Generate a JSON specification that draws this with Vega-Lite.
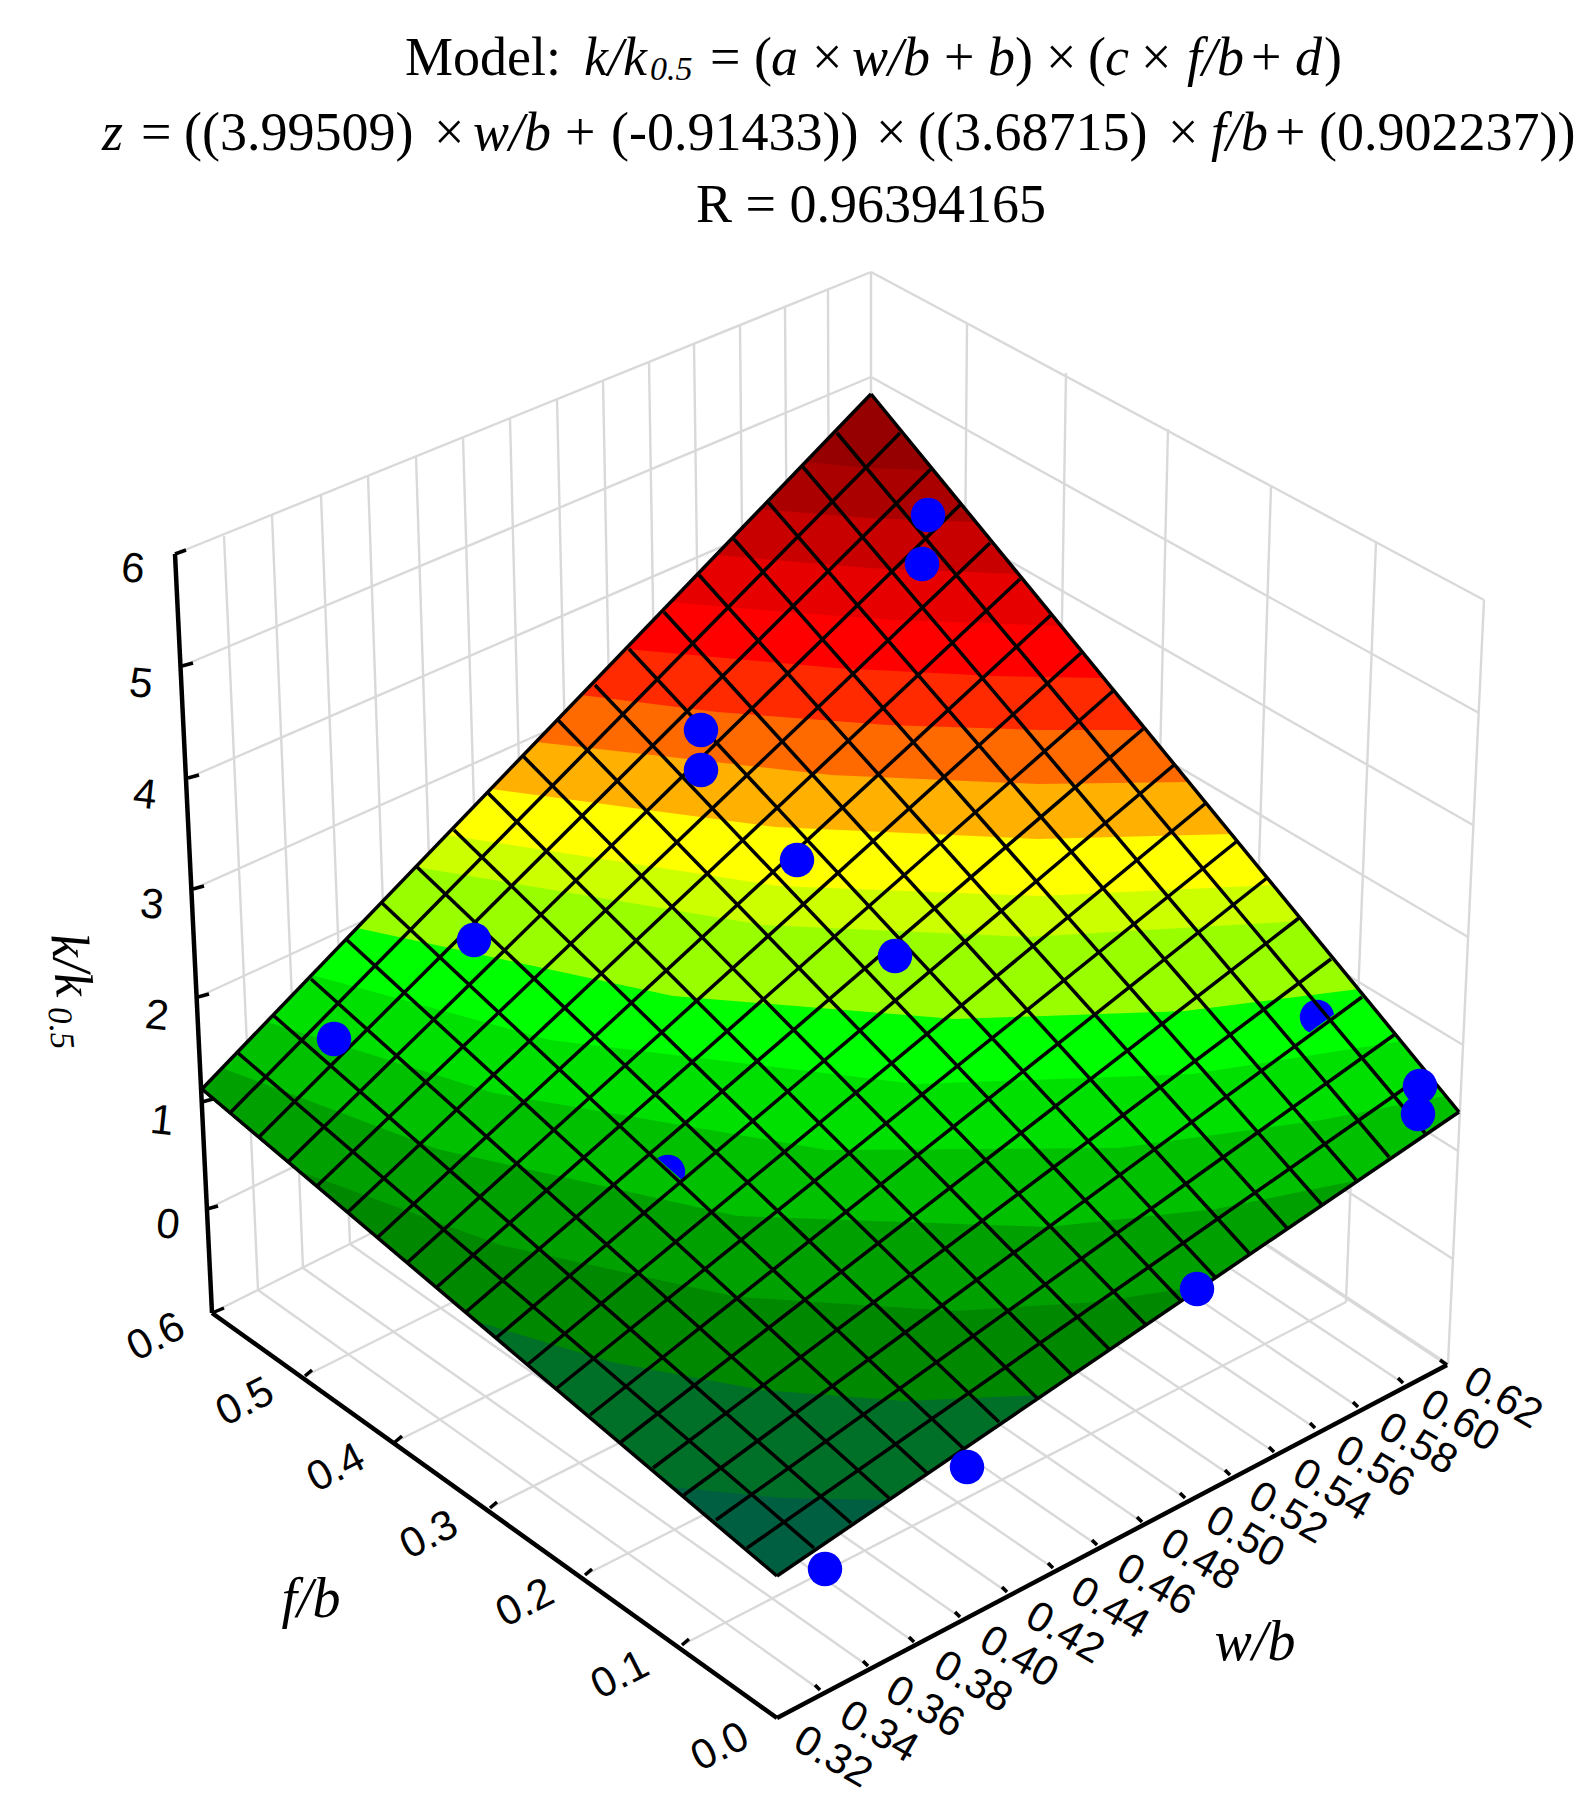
{
  "$schema": "https://vega.github.io/schema/vega-lite/v6.json",
  "width": 1593,
  "height": 1816,
  "padding": 0,
  "autosize": {"type": "fit", "contains": "padding"},
  "background": "white",
  "config": {"view": {"stroke": null}},
  "datasets": {
    "wall": [
      {"x":224,"y":536,"x2":258,"y2":1290},{"x":272,"y":515,"x2":303,"y2":1268},{"x":321,"y":495,"x2":350,"y2":1244},
      {"x":368,"y":476,"x2":394,"y2":1223},{"x":416,"y":456,"x2":440,"y2":1199},{"x":463,"y":437,"x2":485,"y2":1177},
      {"x":510,"y":419,"x2":529,"y2":1154},{"x":557,"y":399,"x2":574,"y2":1132},{"x":603,"y":380,"x2":617,"y2":1110},
      {"x":649,"y":362,"x2":661,"y2":1088},{"x":694,"y":344,"x2":704,"y2":1067},{"x":740,"y":326,"x2":747,"y2":1045},
      {"x":785,"y":307,"x2":790,"y2":1023},{"x":828,"y":290,"x2":830,"y2":1003},{"x":871,"y":272,"x2":871,"y2":983},
      {"x":967,"y":324,"x2":961,"y2":1048},{"x":1066,"y":373,"x2":1054,"y2":1112},{"x":1168,"y":429,"x2":1150,"y2":1176},
      {"x":1271,"y":487,"x2":1247,"y2":1239},{"x":1376,"y":542,"x2":1346,"y2":1302},{"x":1484,"y":600,"x2":1448,"y2":1364},
      {"x":175,"y":554,"x2":871,"y2":272},{"x":182,"y":666,"x2":871,"y2":377},{"x":188,"y":778,"x2":871,"y2":482},
      {"x":193,"y":889,"x2":871,"y2":586},{"x":198,"y":997,"x2":871,"y2":687},{"x":202,"y":1102,"x2":871,"y2":785},
      {"x":207,"y":1209,"x2":871,"y2":886},
      {"x":871,"y":272,"x2":1484,"y2":600},{"x":871,"y":377,"x2":1479,"y2":713},{"x":871,"y":482,"x2":1473,"y2":825},
      {"x":871,"y":586,"x2":1468,"y2":937},{"x":871,"y":687,"x2":1463,"y2":1045},{"x":871,"y":785,"x2":1458,"y2":1151},
      {"x":871,"y":886,"x2":1453,"y2":1259},{"x":871,"y":983,"x2":1448,"y2":1364},
      {"x":820,"y":1690,"x2":258,"y2":1290},{"x":868,"y":1666,"x2":303,"y2":1268},{"x":914,"y":1642,"x2":350,"y2":1244},
      {"x":960,"y":1617,"x2":394,"y2":1223},{"x":1007,"y":1592,"x2":440,"y2":1199},{"x":1053,"y":1568,"x2":485,"y2":1177},
      {"x":1097,"y":1545,"x2":529,"y2":1154},{"x":1142,"y":1522,"x2":574,"y2":1132},{"x":1185,"y":1498,"x2":617,"y2":1110},
      {"x":1230,"y":1475,"x2":661,"y2":1088},{"x":1274,"y":1452,"x2":704,"y2":1067},{"x":1315,"y":1428,"x2":747,"y2":1045},
      {"x":1358,"y":1407,"x2":790,"y2":1023},{"x":1403,"y":1383,"x2":830,"y2":1003},{"x":1447,"y":1365,"x2":871,"y2":983},
      {"x":682,"y":1645,"x2":1346,"y2":1302},{"x":585,"y":1575,"x2":1247,"y2":1239},{"x":490,"y":1508,"x2":1150,"y2":1176},
      {"x":395,"y":1442,"x2":1054,"y2":1112},{"x":305,"y":1376,"x2":961,"y2":1048},{"x":212,"y":1313,"x2":871,"y2":983}
    ],
    "axes": [
      {"x":175,"y":554,"x2":212,"y2":1313},{"x":212,"y":1313,"x2":777,"y2":1718},{"x":777,"y":1718,"x2":1447,"y2":1365}
    ],
    "ticks": [
      {"x":175,"y":554,"x2":186,"y2":550},{"x":182,"y":666,"x2":193,"y2":663},{"x":188,"y":778,"x2":199,"y2":775},
      {"x":193,"y":889,"x2":204,"y2":886},{"x":198,"y":997,"x2":209,"y2":994},{"x":202,"y":1102,"x2":213,"y2":1099},
      {"x":207,"y":1209,"x2":218,"y2":1206},{"x":212,"y":1313,"x2":224,"y2":1308},
      {"x":305,"y":1376,"x2":312,"y2":1370},{"x":395,"y":1442,"x2":402,"y2":1436},{"x":490,"y":1508,"x2":497,"y2":1502},
      {"x":585,"y":1575,"x2":592,"y2":1569},{"x":682,"y":1645,"x2":689,"y2":1639},
      {"x":820,"y":1690,"x2":815,"y2":1685},{"x":868,"y":1666,"x2":863,"y2":1661},{"x":914,"y":1642,"x2":909,"y2":1637},
      {"x":960,"y":1617,"x2":955,"y2":1612},{"x":1007,"y":1592,"x2":1002,"y2":1587},{"x":1053,"y":1568,"x2":1048,"y2":1563},
      {"x":1097,"y":1545,"x2":1092,"y2":1540},{"x":1142,"y":1522,"x2":1137,"y2":1517},{"x":1185,"y":1498,"x2":1180,"y2":1493},
      {"x":1230,"y":1475,"x2":1225,"y2":1470},{"x":1274,"y":1452,"x2":1269,"y2":1447},{"x":1315,"y":1428,"x2":1310,"y2":1423},
      {"x":1358,"y":1407,"x2":1353,"y2":1402},{"x":1403,"y":1383,"x2":1398,"y2":1378},{"x":1447,"y":1365,"x2":1440,"y2":1360}
    ],
    "surface": [
      {"band":"0","i":0,"x":777,"y":1576},{"band":"0","i":1,"x":1459,"y":1112},{"band":"0","i":2,"x":871,"y":394},{"band":"0","i":3,"x":201,"y":1090},
      {"band":"0.5","i":0,"x":672,"y":1487},{"band":"0.5","i":1,"x":782,"y":1498},{"band":"0.5","i":2,"x":886,"y":1500},{"band":"0.5","i":3,"x":1459,"y":1112},{"band":"0.5","i":4,"x":871,"y":394},{"band":"0.5","i":5,"x":201,"y":1090},
      {"band":"0.75","i":0,"x":475,"y":1321},{"band":"0.75","i":1,"x":611,"y":1362},{"band":"0.75","i":2,"x":762,"y":1390},{"band":"0.75","i":3,"x":904,"y":1401},{"band":"0.75","i":4,"x":1043,"y":1395},{"band":"0.75","i":5,"x":1459,"y":1112},{"band":"0.75","i":6,"x":871,"y":394},{"band":"0.75","i":7,"x":201,"y":1090},
      {"band":"1","i":0,"x":296,"y":1170},{"band":"1","i":1,"x":500,"y":1245},{"band":"1","i":2,"x":737,"y":1297},{"band":"1","i":3,"x":954,"y":1311},{"band":"1","i":4,"x":1097,"y":1302},{"band":"1","i":5,"x":1201,"y":1286},{"band":"1","i":6,"x":1459,"y":1112},{"band":"1","i":7,"x":871,"y":394},{"band":"1","i":8,"x":201,"y":1090},
      {"band":"1.25","i":0,"x":222,"y":1068},{"band":"1.25","i":1,"x":437,"y":1149},{"band":"1.25","i":2,"x":737,"y":1216},{"band":"1.25","i":3,"x":1048,"y":1227},{"band":"1.25","i":4,"x":1216,"y":1209},{"band":"1.25","i":5,"x":1359,"y":1180},{"band":"1.25","i":6,"x":1459,"y":1112},{"band":"1.25","i":7,"x":871,"y":394},
      {"band":"1.5","i":0,"x":267,"y":1022},{"band":"1.5","i":1,"x":494,"y":1093},{"band":"1.5","i":2,"x":827,"y":1150},{"band":"1.5","i":3,"x":1119,"y":1148},{"band":"1.5","i":4,"x":1322,"y":1120},{"band":"1.5","i":5,"x":1445,"y":1096},{"band":"1.5","i":6,"x":871,"y":394},
      {"band":"1.75","i":0,"x":312,"y":975},{"band":"1.75","i":1,"x":550,"y":1040},{"band":"1.75","i":2,"x":916,"y":1084},{"band":"1.75","i":3,"x":1193,"y":1074},{"band":"1.75","i":4,"x":1402,"y":1041},{"band":"1.75","i":5,"x":871,"y":394},
      {"band":"2","i":0,"x":357,"y":928},{"band":"2","i":1,"x":673,"y":996},{"band":"2","i":2,"x":955,"y":1019},{"band":"2","i":3,"x":1185,"y":1011},{"band":"2","i":4,"x":1359,"y":989},{"band":"2","i":5,"x":871,"y":394},
      {"band":"2.33","i":0,"x":416,"y":867},{"band":"2.33","i":1,"x":763,"y":925},{"band":"2.33","i":2,"x":1027,"y":937},{"band":"2.33","i":3,"x":1303,"y":921},{"band":"2.33","i":4,"x":871,"y":394},
      {"band":"2.5","i":0,"x":446,"y":835},{"band":"2.5","i":1,"x":778,"y":886},{"band":"2.5","i":2,"x":1040,"y":896},{"band":"2.5","i":3,"x":1274,"y":885},{"band":"2.5","i":4,"x":871,"y":394},
      {"band":"2.75","i":0,"x":491,"y":789},{"band":"2.75","i":1,"x":775,"y":827},{"band":"2.75","i":2,"x":1038,"y":839},{"band":"2.75","i":3,"x":1232,"y":834},{"band":"2.75","i":4,"x":871,"y":394},
      {"band":"3","i":0,"x":536,"y":742},{"band":"3","i":1,"x":831,"y":775},{"band":"3","i":2,"x":1038,"y":784},{"band":"3","i":3,"x":1189,"y":782},{"band":"3","i":4,"x":871,"y":394},
      {"band":"3.25","i":0,"x":581,"y":695},{"band":"3.25","i":1,"x":717,"y":712},{"band":"3.25","i":2,"x":887,"y":725},{"band":"3.25","i":3,"x":1040,"y":730},{"band":"3.25","i":4,"x":1146,"y":730},{"band":"3.25","i":5,"x":871,"y":394},
      {"band":"3.5","i":0,"x":626,"y":649},{"band":"3.5","i":1,"x":836,"y":668},{"band":"3.5","i":2,"x":994,"y":676},{"band":"3.5","i":3,"x":1104,"y":678},{"band":"3.5","i":4,"x":871,"y":394},
      {"band":"3.75","i":0,"x":671,"y":602},{"band":"3.75","i":1,"x":785,"y":612},{"band":"3.75","i":2,"x":896,"y":620},{"band":"3.75","i":3,"x":1061,"y":626},{"band":"3.75","i":4,"x":871,"y":394},
      {"band":"4","i":0,"x":716,"y":555},{"band":"4","i":1,"x":870,"y":568},{"band":"4","i":2,"x":1019,"y":574},{"band":"4","i":3,"x":871,"y":394},
      {"band":"4.25","i":0,"x":760,"y":509},{"band":"4.25","i":1,"x":868,"y":518},{"band":"4.25","i":2,"x":976,"y":522},{"band":"4.25","i":3,"x":871,"y":394},
      {"band":"4.5","i":0,"x":805,"y":462},{"band":"4.5","i":1,"x":870,"y":468},{"band":"4.5","i":2,"x":933,"y":470},{"band":"4.5","i":3,"x":871,"y":394}
    ],
    "patches": [
      {"band":"1.25","i":0,"x":640,"y":1143},{"band":"1.25","i":1,"x":682,"y":1180},{"band":"1.25","i":2,"x":705,"y":1162},{"band":"1.25","i":3,"x":705,"y":1197},{"band":"1.25","i":4,"x":650,"y":1197},{"band":"1.25","i":5,"x":640,"y":1175},
      {"band":"1.75","i":0,"x":1295,"y":1043},{"band":"1.75","i":1,"x":1340,"y":1010},{"band":"1.75","i":2,"x":1345,"y":1040},{"band":"1.75","i":3,"x":1300,"y":1056}
    ],
    "mesh": [
      {"x":777,"y":1576,"x2":202,"y2":1089},{"x":814,"y":1548,"x2":238,"y2":1053},{"x":851,"y":1523,"x2":274,"y2":1016},
      {"x":889,"y":1498,"x2":311,"y2":979},{"x":927,"y":1473,"x2":347,"y2":940},{"x":963,"y":1448,"x2":382,"y2":903},
      {"x":999,"y":1422,"x2":417,"y2":867},{"x":1037,"y":1398,"x2":454,"y2":830},{"x":1072,"y":1375,"x2":488,"y2":793},
      {"x":1110,"y":1350,"x2":523,"y2":756},{"x":1146,"y":1325,"x2":558,"y2":720},{"x":1180,"y":1300,"x2":595,"y2":685},
      {"x":1215,"y":1277,"x2":629,"y2":649},{"x":1249,"y":1253,"x2":664,"y2":612},{"x":1287,"y":1228,"x2":699,"y2":575},
      {"x":1322,"y":1205,"x2":733,"y2":538},{"x":1356,"y":1180,"x2":768,"y2":502},{"x":1389,"y":1157,"x2":803,"y2":467},
      {"x":1425,"y":1133,"x2":837,"y2":433},{"x":1459,"y":1112,"x2":871,"y2":394},
      {"x":777,"y":1576,"x2":1459,"y2":1112},{"x":747,"y":1548,"x2":1425,"y2":1074},{"x":716,"y":1520,"x2":1394,"y2":1035},
      {"x":684,"y":1495,"x2":1362,"y2":997},{"x":653,"y":1468,"x2":1331,"y2":959},{"x":621,"y":1442,"x2":1299,"y2":918},
      {"x":590,"y":1415,"x2":1267,"y2":878},{"x":557,"y":1388,"x2":1236,"y2":842},{"x":527,"y":1365,"x2":1206,"y2":803},
      {"x":496,"y":1338,"x2":1174,"y2":765},{"x":466,"y":1312,"x2":1143,"y2":729},{"x":437,"y":1287,"x2":1113,"y2":691},
      {"x":408,"y":1262,"x2":1081,"y2":653},{"x":378,"y":1237,"x2":1052,"y2":614},{"x":347,"y":1213,"x2":1020,"y2":579},
      {"x":316,"y":1187,"x2":990,"y2":543},{"x":288,"y":1162,"x2":961,"y2":504},{"x":259,"y":1137,"x2":931,"y2":469},
      {"x":230,"y":1113,"x2":900,"y2":433},{"x":201,"y":1090,"x2":871,"y2":394}
    ],
    "pointsBehind": [
      {"x":668,"y":1172},{"x":1317,"y":1017}
    ],
    "points": [
      {"x":928,"y":515},{"x":922,"y":564},{"x":701,"y":730},{"x":701,"y":770},{"x":797,"y":860},{"x":895,"y":956},
      {"x":474,"y":940},{"x":334,"y":1039},{"x":1420,"y":1086},{"x":1418,"y":1114},{"x":1197,"y":1289},{"x":967,"y":1467},{"x":825,"y":1569}
    ],
    "zLabels": [
      {"x":133,"y":569,"label":"6"},{"x":141,"y":684,"label":"5"},{"x":145,"y":795,"label":"4"},{"x":152,"y":905,"label":"3"},
      {"x":157,"y":1016,"label":"2"},{"x":162,"y":1121,"label":"1"},{"x":168,"y":1225,"label":"0"}
    ],
    "fLabels": [
      {"x":156,"y":1337,"label":"0.6"},{"x":245,"y":1402,"label":"0.5"},{"x":336,"y":1468,"label":"0.4"},{"x":429,"y":1535,"label":"0.3"},
      {"x":525,"y":1603,"label":"0.2"},{"x":620,"y":1675,"label":"0.1"},{"x":720,"y":1747,"label":"0.0"}
    ],
    "wLabels": [
      {"x":833,"y":1757,"label":"0.32"},{"x":879,"y":1732,"label":"0.34"},{"x":925,"y":1707,"label":"0.36"},{"x":973,"y":1682,"label":"0.38"},
      {"x":1019,"y":1657,"label":"0.40"},{"x":1065,"y":1633,"label":"0.42"},{"x":1110,"y":1608,"label":"0.44"},{"x":1156,"y":1585,"label":"0.46"},
      {"x":1200,"y":1560,"label":"0.48"},{"x":1245,"y":1537,"label":"0.50"},{"x":1288,"y":1513,"label":"0.52"},{"x":1332,"y":1490,"label":"0.54"},
      {"x":1375,"y":1467,"label":"0.56"},{"x":1418,"y":1444,"label":"0.58"},{"x":1460,"y":1421,"label":"0.60"},{"x":1503,"y":1398,"label":"0.62"}
    ],
    "titleRoman": [
      {"x":405,"y":75,"label":"Model:"},{"x":710,"y":75,"label":"="},{"x":754,"y":75,"label":"("},{"x":812,"y":75,"label":"×"},
      {"x":944,"y":75,"label":"+"},{"x":1015,"y":75,"label":")"},{"x":1046,"y":75,"label":"×"},{"x":1088,"y":75,"label":"("},
      {"x":1141,"y":75,"label":"×"},{"x":1251,"y":75,"label":"+"},{"x":1324,"y":75,"label":")"},
      {"x":141,"y":150,"label":"="},{"x":184,"y":150,"label":"((3.99509)"},{"x":434,"y":150,"label":"×"},{"x":565,"y":150,"label":"+"},
      {"x":611,"y":150,"label":"(-0.91433))"},{"x":876,"y":150,"label":"×"},{"x":918,"y":150,"label":"((3.68715)"},{"x":1168,"y":150,"label":"×"},
      {"x":1275,"y":150,"label":"+"},{"x":1319,"y":150,"label":"(0.902237))"},
      {"x":696,"y":222,"label":"R = 0.96394165"}
    ],
    "titleItalic": [
      {"x":584,"y":75,"label":"k/k"},{"x":771,"y":75,"label":"a"},{"x":852,"y":75,"label":"w/b"},{"x":988,"y":75,"label":"b"},
      {"x":1105,"y":75,"label":"c"},{"x":1187,"y":75,"label":"f/b"},{"x":1295,"y":75,"label":"d"},
      {"x":102,"y":150,"label":"z"},{"x":473,"y":150,"label":"w/b"},{"x":1211,"y":150,"label":"f/b"}
    ],
    "titleSub": [
      {"x":650,"y":80,"label":"0.5"}
    ],
    "axisNames": [
      {"x":311,"y":1600,"label":"f/b"},{"x":1255,"y":1643,"label":"w/b"}
    ],
    "zName": [
      {"x":70,"y":965,"label":"k/k"}
    ],
    "zNameSub": [
      {"x":60,"y":1028,"label":"0.5"}
    ]
  },
  "encoding": {
    "x": {"field": "x", "type": "quantitative", "scale": {"domain": [0, 1593], "nice": false, "zero": false}, "axis": null},
    "y": {"field": "y", "type": "quantitative", "scale": {"domain": [0, 1816], "nice": false, "zero": false, "reverse": true}, "axis": null}
  },
  "layer": [
    {
      "data": {"name": "wall"},
      "mark": {"type": "rule", "stroke": "#d9d9d9", "strokeWidth": 2.4},
      "encoding": {"x2": {"field": "x2"}, "y2": {"field": "y2"}}
    },
    {
      "data": {"name": "axes"},
      "mark": {"type": "rule", "stroke": "black", "strokeWidth": 4.5},
      "encoding": {"x2": {"field": "x2"}, "y2": {"field": "y2"}}
    },
    {
      "data": {"name": "ticks"},
      "mark": {"type": "rule", "stroke": "black", "strokeWidth": 3.5},
      "encoding": {"x2": {"field": "x2"}, "y2": {"field": "y2"}}
    },
    {
      "data": {"name": "surface"},
      "mark": {"type": "line", "strokeWidth": 0, "interpolate": "linear"},
      "encoding": {
        "order": {"field": "i", "type": "quantitative"},
        "fill": {
          "field": "band",
          "type": "nominal",
          "legend": null,
          "scale": {
            "domain": ["0", "0.5", "0.75", "1", "1.25", "1.5", "1.75", "2", "2.33", "2.5", "2.75", "3", "3.25", "3.5", "3.75", "4", "4.25", "4.5"],
            "range": ["#005f40", "#007028", "#008800", "#00a000", "#00c000", "#00e000", "#00ff00", "#99ff00", "#ccff00", "#ffff00", "#ffb000", "#ff6a00", "#ff2a00", "#ff0000", "#e60000", "#c80000", "#aa0000", "#960000"]
          }
        }
      }
    },
    {
      "data": {"name": "pointsBehind"},
      "mark": {"type": "point", "shape": "circle", "filled": true, "fill": "#0000ff", "stroke": null, "opacity": 1, "size": 1190}
    },
    {
      "data": {"name": "patches"},
      "mark": {"type": "line", "strokeWidth": 0},
      "encoding": {
        "order": {"field": "i", "type": "quantitative"},
        "fill": {"field": "band", "type": "nominal", "legend": null}
      }
    },
    {
      "data": {"name": "mesh"},
      "mark": {"type": "rule", "stroke": "black", "strokeWidth": 3.5},
      "encoding": {"x2": {"field": "x2"}, "y2": {"field": "y2"}}
    },
    {
      "data": {"name": "points"},
      "mark": {"type": "point", "shape": "circle", "filled": true, "fill": "#0000ff", "stroke": null, "opacity": 1, "size": 1190}
    },
    {
      "data": {"name": "zLabels"},
      "mark": {"type": "text", "font": "Liberation Sans", "fontSize": 42, "angle": 6, "align": "center", "baseline": "middle", "fill": "black"},
      "encoding": {"text": {"field": "label"}}
    },
    {
      "data": {"name": "fLabels"},
      "mark": {"type": "text", "font": "Liberation Sans", "fontSize": 42, "angle": -27, "align": "center", "baseline": "middle", "fill": "black"},
      "encoding": {"text": {"field": "label"}}
    },
    {
      "data": {"name": "wLabels"},
      "mark": {"type": "text", "font": "Liberation Sans", "fontSize": 42, "angle": 30, "align": "center", "baseline": "middle", "fill": "black"},
      "encoding": {"text": {"field": "label"}}
    },
    {
      "data": {"name": "titleRoman"},
      "mark": {"type": "text", "font": "Liberation Serif", "fontSize": 54, "align": "left", "baseline": "alphabetic", "fill": "black"},
      "encoding": {"text": {"field": "label"}}
    },
    {
      "data": {"name": "titleItalic"},
      "mark": {"type": "text", "font": "Liberation Serif", "fontStyle": "italic", "fontSize": 54, "align": "left", "baseline": "alphabetic", "fill": "black"},
      "encoding": {"text": {"field": "label"}}
    },
    {
      "data": {"name": "titleSub"},
      "mark": {"type": "text", "font": "Liberation Serif", "fontStyle": "italic", "fontSize": 34, "align": "left", "baseline": "alphabetic", "fill": "black"},
      "encoding": {"text": {"field": "label"}}
    },
    {
      "data": {"name": "axisNames"},
      "mark": {"type": "text", "font": "Liberation Serif", "fontStyle": "italic", "fontSize": 56, "align": "center", "baseline": "middle", "fill": "black"},
      "encoding": {"text": {"field": "label"}}
    },
    {
      "data": {"name": "zName"},
      "mark": {"type": "text", "font": "Liberation Serif", "fontStyle": "italic", "fontSize": 54, "angle": 85, "align": "center", "baseline": "middle", "fill": "black"},
      "encoding": {"text": {"field": "label"}}
    },
    {
      "data": {"name": "zNameSub"},
      "mark": {"type": "text", "font": "Liberation Serif", "fontStyle": "italic", "fontSize": 34, "angle": 85, "align": "center", "baseline": "middle", "fill": "black"},
      "encoding": {"text": {"field": "label"}}
    }
  ]
}
